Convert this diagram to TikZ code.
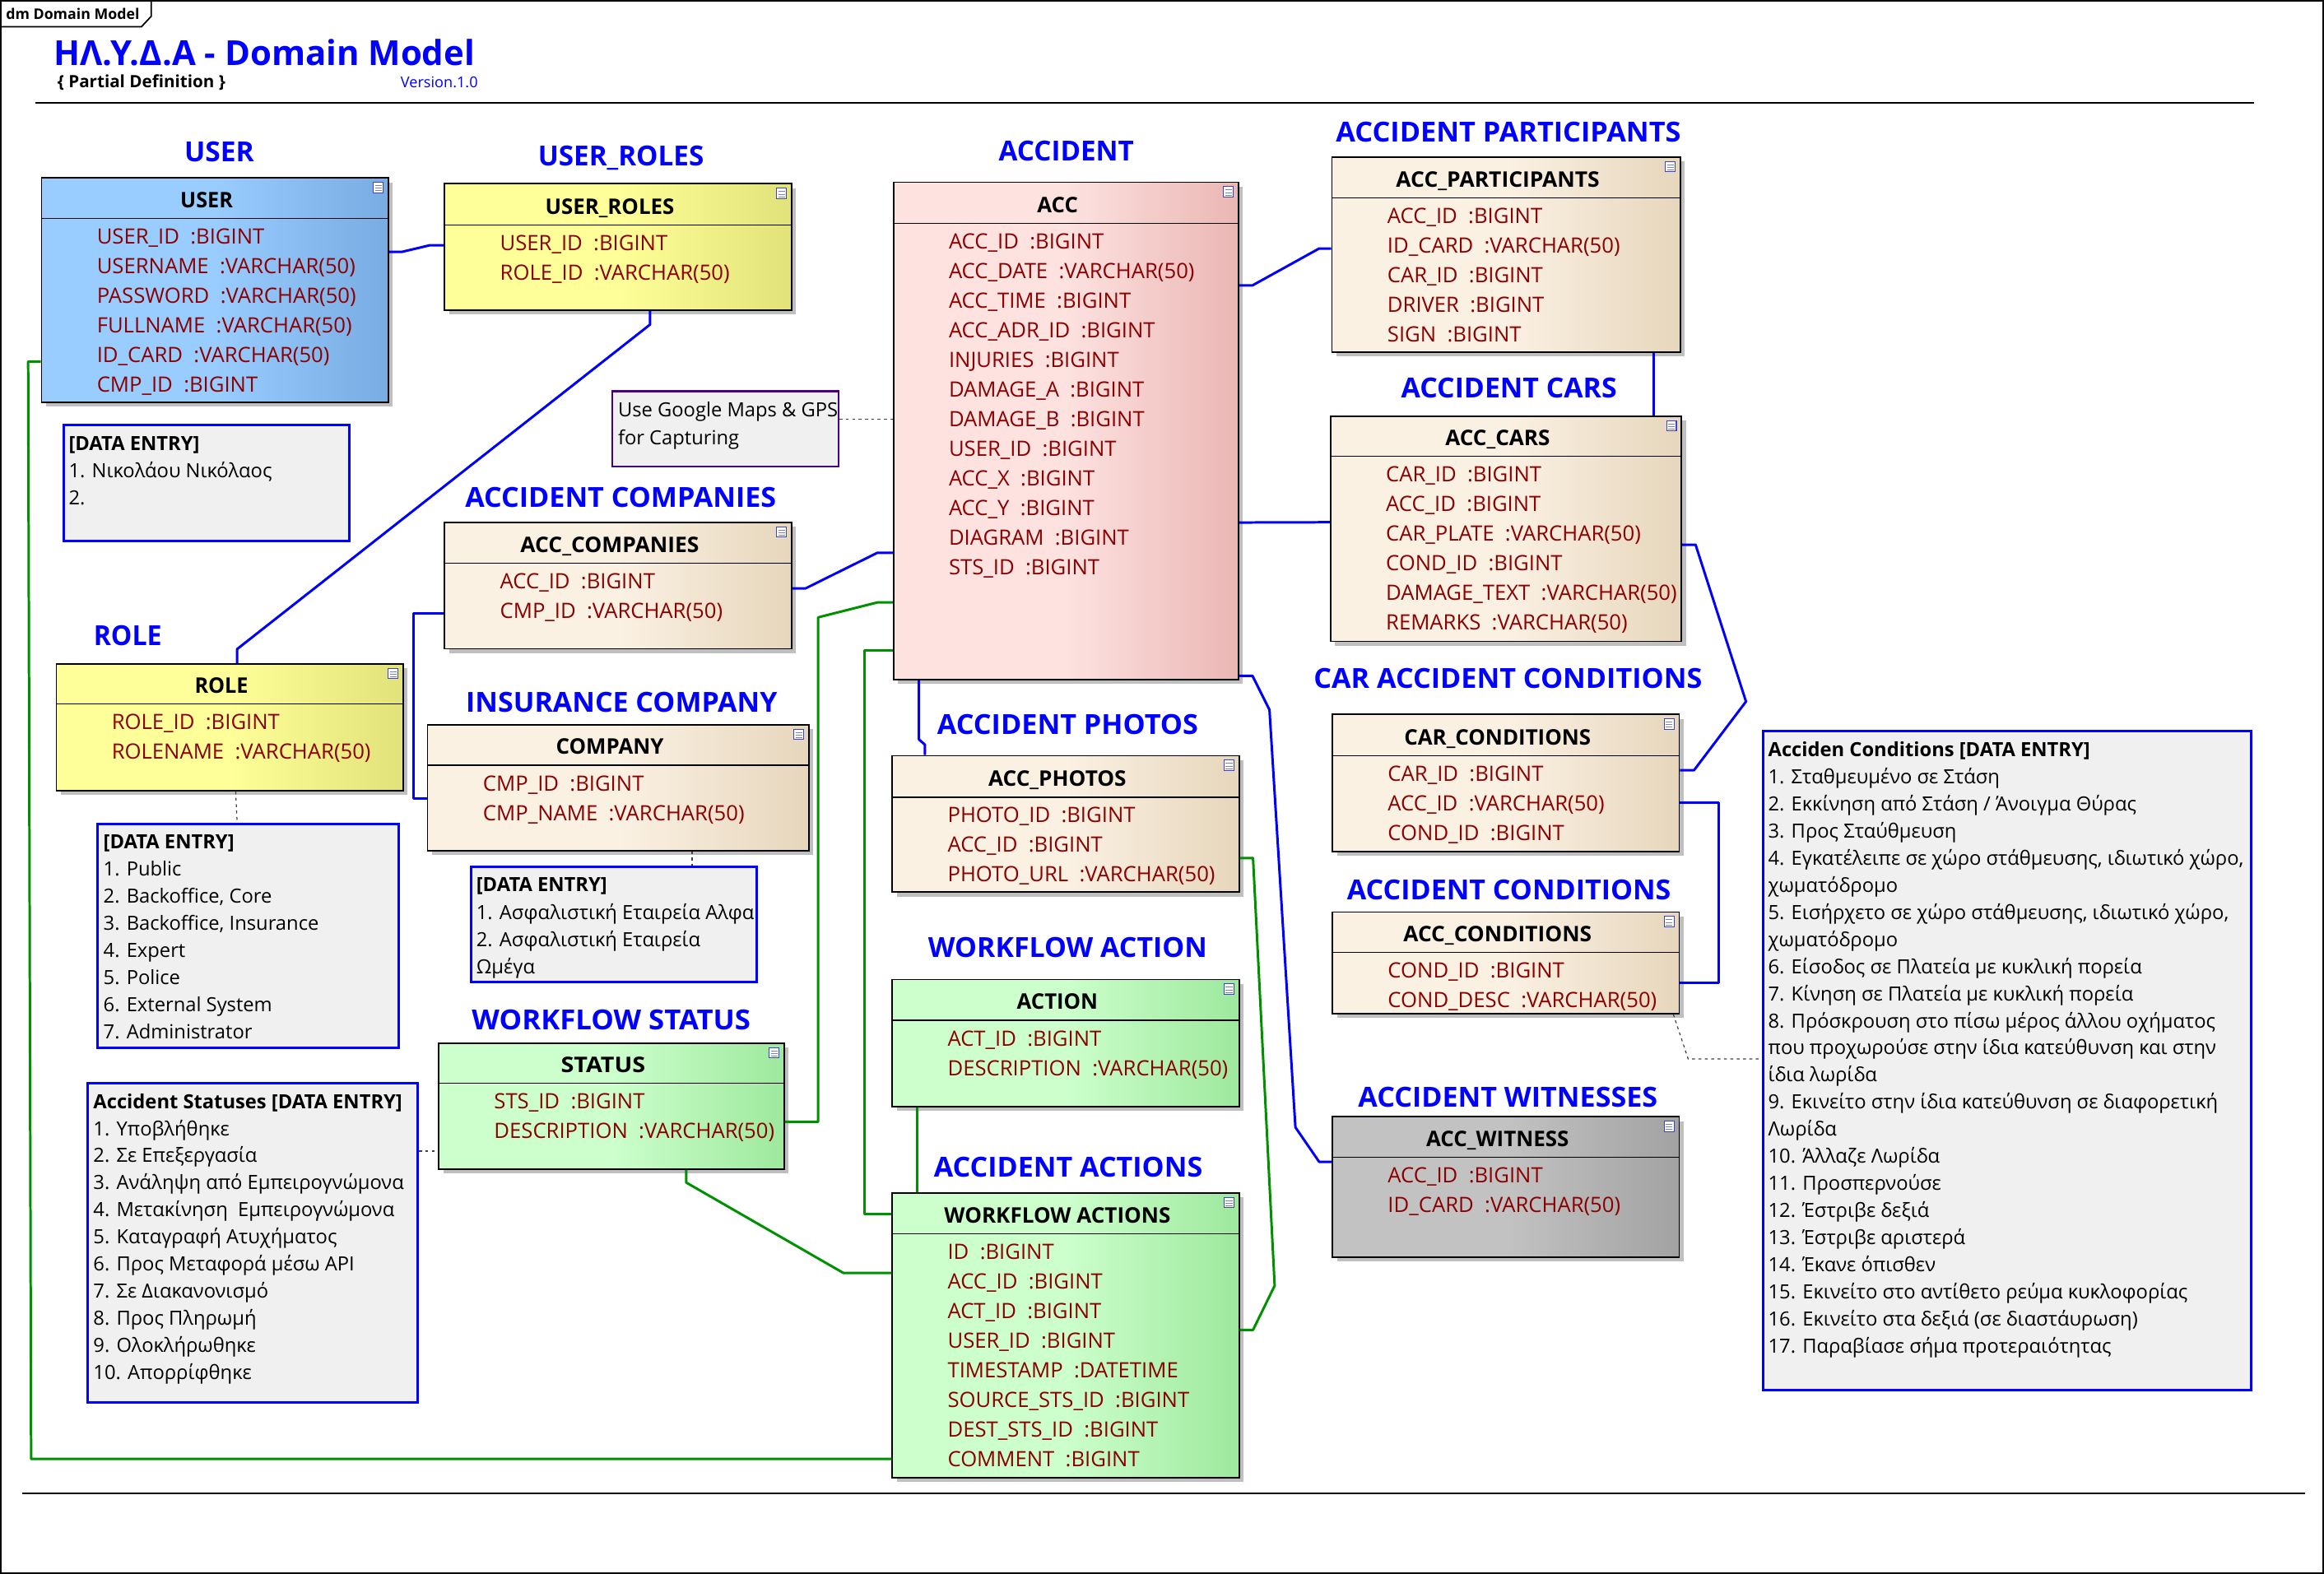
\documentclass[tikz,border=0pt]{standalone}
\usepackage{fontspec}
\usepackage{graphicx}
\setmainfont{Open Sans}
\usetikzlibrary{fit}
\newdimen\pxu \pxu=0.018cm
\definecolor{lblue}{RGB}{0,0,255}
\definecolor{lineblue}{RGB}{0,0,255}
\definecolor{linegreen}{RGB}{0,145,0}
\definecolor{attrred}{RGB}{139,0,0}
\definecolor{noteblue}{RGB}{0,0,255}
\definecolor{notegray}{RGB}{240,240,240}
\definecolor{notepurple}{RGB}{72,0,128}
\definecolor{iconblue}{RGB}{60,70,190}
\definecolor{userL}{RGB}{153,204,255}\definecolor{userR}{RGB}{120,172,226}
\definecolor{yelL}{RGB}{255,255,153}\definecolor{yelR}{RGB}{226,226,122}
\definecolor{begL}{RGB}{251,241,227}\definecolor{begR}{RGB}{230,214,188}
\definecolor{pinkL}{RGB}{253,226,224}\definecolor{pinkR}{RGB}{234,182,180}
\definecolor{grnL}{RGB}{204,255,204}\definecolor{grnR}{RGB}{158,232,158}
\definecolor{gryL}{RGB}{194,194,194}\definecolor{gryR}{RGB}{162,162,162}
\newcommand\attrfont{\fontsize{7.3pt}{8pt}\selectfont}
\newcommand\notefont{\fontsize{6.75pt}{8pt}\selectfont}
\newcommand\hw[2]{\resizebox{#1\pxu}{10.5\pxu}{\bfseries #2}}
\tikzset{
 tblbox/.style={draw=black, line width=0.5pt, inner sep=0pt},
 shadowc/.style={fill=black!25},
 hdrsep/.style={draw=black, line width=0.4pt},
 hdr/.style={anchor=base, inner sep=0pt},
 attr/.style={anchor=base west, inner sep=0pt, text=attrred, font=\attrfont},
 iconst/.style={draw=iconblue, fill=white, line width=0.3pt},
 iconln/.style={draw=iconblue!70, line width=0.25pt},
 notest/.style={draw=noteblue, line width=0.85pt, fill=notegray, inner sep=0pt},
 notetxt/.style={anchor=base west, inner sep=0pt, font=\notefont},
 bconn/.style={draw=lineblue, line width=0.85pt, line join=round},
 gconn/.style={draw=linegreen, line width=0.85pt, line join=round},
 dotc/.style={draw=black!75, line width=0.35pt, dash pattern=on 1pt off 1.2pt},
 lbl/.style={anchor=base west, inner sep=0pt, text=lblue},
 fuser/.style={left color=userL, right color=userR, middle color=userL},
 fyel/.style={left color=yelL, right color=yelR, middle color=yelL},
 fbeg/.style={left color=begL, right color=begR, middle color=begL},
 fpink/.style={left color=pinkL, right color=pinkR, middle color=pinkL},
 fgrn/.style={left color=grnL, right color=grnR, middle color=grnL},
 fgry/.style={left color=gryL, right color=gryR, middle color=gryL}
}
% #1 name #2 x1 #3 y1 #4 x2 #5 y2 #6 header line y #7 fill style #8 header text
\newcommand\tbl[8]{%
  \fill[shadowc] (#2+3,#3+3) rectangle (#4+3,#5+3);
  \node[tblbox,#7,fit={(#2,#3) (#4,#5)}] (#1) {};
  \draw[hdrsep] (#2,#6) -- (#4,#6);
  \node[hdr] (#1-title) at ({(#2+#4)/2-5.6},#6-7.4) {#8};
  \draw[iconst] (#4-10,#3+3) rectangle (#4-3.5,#3+10);
  \draw[iconln] (#4-9,#3+5.2) -- (#4-4.5,#3+5.2) (#4-9,#3+7) -- (#4-4.5,#3+7) (#4-9,#3+8.7) -- (#4-4.5,#3+8.7);
}
\newcommand\attrs[4]{\foreach \aline [count=\i] in {#4} {\node[attr] (#1-a\i) at (#2+37,{#3+17.2+(\i-1)*20}) {\aline};}}
% #1 name #2 x1 #3 y1 #4 x2 #5 y2 #6 text x #7 first baseline #8 spacing #9 lines
\newcommand\notebox[9]{%
  \node[notest, fit={(#2,#3) (#4,#5)}] (#1) {};
  \foreach \aline [count=\i] in {#9} {\node[notetxt] (#1-l\i) at (#6,{#7+(\i-1)*#8}) {\aline};}
}
% #1 name #2 xl #3 width #4 baseline #5 text
\newcommand\lb[5]{\node[lbl] (#1) at (#2,#4) {\resizebox{#3\pxu}{13.5\pxu}{\bfseries #5}};}
\begin{document}
\begin{tikzpicture}[x=0.018cm, y=-0.018cm]
\useasboundingbox (0,0) rectangle (1568,1062);
% frame
\draw[line width=0.5pt] (0.6,0.6) rectangle (1567.4,1061.4);
\draw[line width=0.5pt] (0.6,18) -- (95.5,18) -- (102,11) -- (102,0.6);
\node[anchor=base west, inner sep=0pt] (tab) at (3.7,13) {\resizebox{90\pxu}{!}{\bfseries dm Domain Model}};
\node[anchor=base west, inner sep=0pt, text=lblue] (title) at (36,44.4) {\resizebox{284\pxu}{!}{\bfseries HΛ.Y.Δ.A - Domain Model}};
\node[anchor=base west, inner sep=0pt] (subtitle) at (38.4,59) {\resizebox{113.3\pxu}{!}{\bfseries \{ Partial Definition \}}};
\node[anchor=base west, inner sep=0pt, text=lblue] (version) at (270,58.9) {\resizebox{52\pxu}{!}{Version.1.0}};
\draw[line width=0.5pt] (24,69.4) coordinate (tl1) -- (1521,69.4) coordinate (tl2);
\draw[line width=0.5pt] (15,1007.8) coordinate (bl1) -- (1555,1007.8) coordinate (bl2);

% tables
\tbl{user}{28}{120}{262}{271.5}{147.5}{fuser}{\hw{35.4}{USER}}
\attrs{user}{28}{147.5}{USER\_ID~~:BIGINT, USERNAME~~:VARCHAR(50), PASSWORD~~:VARCHAR(50), FULLNAME~~:VARCHAR(50), ID\_CARD~~:VARCHAR(50), CMP\_ID~~:BIGINT}
\tbl{ur}{300}{124}{534}{209.3}{151.8}{fyel}{\hw{87}{USER\_ROLES}}
\attrs{ur}{300}{151.8}{USER\_ID~~:BIGINT, ROLE\_ID~~:VARCHAR(50)}
\tbl{acc}{602.8}{123}{835.6}{458.6}{150.7}{fpink}{\hw{27.5}{ACC}}
\attrs{acc}{602.8}{150.7}{ACC\_ID~~:BIGINT, ACC\_DATE~~:VARCHAR(50), ACC\_TIME~~:BIGINT, ACC\_ADR\_ID~~:BIGINT, INJURIES~~:BIGINT, DAMAGE\_A~~:BIGINT, DAMAGE\_B~~:BIGINT, USER\_ID~~:BIGINT, ACC\_X~~:BIGINT, ACC\_Y~~:BIGINT, DIAGRAM~~:BIGINT, STS\_ID~~:BIGINT}
\tbl{part}{898.7}{106}{1133.7}{237.6}{133.5}{fbeg}{\hw{137.3}{ACC\_PARTICIPANTS}}
\attrs{part}{898.7}{133.5}{ACC\_ID~~:BIGINT, ID\_CARD~~:VARCHAR(50), CAR\_ID~~:BIGINT, DRIVER~~:BIGINT, SIGN~~:BIGINT}
\tbl{cars}{897.7}{280.8}{1134.5}{432.8}{308}{fbeg}{\hw{70.6}{ACC\_CARS}}
\attrs{cars}{897.7}{308}{CAR\_ID~~:BIGINT, ACC\_ID~~:BIGINT, CAR\_PLATE~~:VARCHAR(50), COND\_ID~~:BIGINT, DAMAGE\_TEXT~~:VARCHAR(50), REMARKS~~:VARCHAR(50)}
\tbl{carcond}{899}{482}{1133}{574.6}{510}{fbeg}{\hw{126}{CAR\_CONDITIONS}}
\attrs{carcond}{899}{510}{CAR\_ID~~:BIGINT, ACC\_ID~~:VARCHAR(50), COND\_ID~~:BIGINT}
\tbl{acccond}{899}{615.5}{1133}{684}{642.7}{fbeg}{\hw{127}{ACC\_CONDITIONS}}
\attrs{acccond}{899}{642.7}{COND\_ID~~:BIGINT, COND\_DESC~~:VARCHAR(50)}
\tbl{witness}{899}{753.5}{1133}{848.4}{781}{fgry}{\hw{96.3}{ACC\_WITNESS}}
\attrs{witness}{899}{781}{ACC\_ID~~:BIGINT, ID\_CARD~~:VARCHAR(50)}
\tbl{accomp}{300}{352.5}{534}{437.8}{380}{fbeg}{\hw{120.5}{ACC\_COMPANIES}}
\attrs{accomp}{300}{380}{ACC\_ID~~:BIGINT, CMP\_ID~~:VARCHAR(50)}
\tbl{company}{288.5}{489}{545.7}{574}{516.4}{fbeg}{\hw{72.7}{COMPANY}}
\attrs{company}{288.5}{516.4}{CMP\_ID~~:BIGINT, CMP\_NAME~~:VARCHAR(50)}
\tbl{role}{38}{448}{272}{533.6}{475}{fyel}{\hw{36.1}{ROLE}}
\attrs{role}{38}{475}{ROLE\_ID~~:BIGINT, ROLENAME~~:VARCHAR(50)}
\tbl{status}{296}{704}{529}{789}{731}{fgrn}{\hw{57}{STATUS}}
\attrs{status}{296}{731}{STS\_ID~~:BIGINT, DESCRIPTION~~:VARCHAR(50)}
\tbl{photos}{602}{510}{836}{602}{538}{fbeg}{\hw{93}{ACC\_PHOTOS}}
\attrs{photos}{602}{538}{PHOTO\_ID~~:BIGINT, ACC\_ID~~:BIGINT, PHOTO\_URL~~:VARCHAR(50)}
\tbl{action}{602}{661}{836}{746.7}{688.5}{fgrn}{\hw{54.7}{ACTION}}
\attrs{action}{602}{688.5}{ACT\_ID~~:BIGINT, DESCRIPTION~~:VARCHAR(50)}
\tbl{wa}{602}{805}{836}{997}{832.7}{fgrn}{\hw{152.7}{WORKFLOW ACTIONS}}
\attrs{wa}{602}{832.7}{ID~~:BIGINT, ACC\_ID~~:BIGINT, ACT\_ID~~:BIGINT, USER\_ID~~:BIGINT, TIMESTAMP~~:DATETIME, SOURCE\_STS\_ID~~:BIGINT, DEST\_STS\_ID~~:BIGINT, COMMENT~~:BIGINT}

% notes
\notebox{usernote}{43}{287}{235.5}{365}{46}{303.8}{18.5}{{\bfseries [DATA ENTRY]}, 1. Νικολάου Νικόλαος, 2.}
\notebox{rolenote}{66}{556}{269}{707}{69.4}{572.8}{18.3}{{\bfseries [DATA ENTRY]}, 1. Public, {2. Backoffice, Core}, {3. Backoffice, Insurance}, 4. Expert, 5. Police, 6. External System, 7. Administrator}
\notebox{compnote}{317.7}{584.7}{510.8}{662.8}{321}{601.8}{18.4}{{\bfseries [DATA ENTRY]}, 1. Ασφαλιστική Εταιρεία Αλφα, 2. Ασφαλιστική Εταιρεία, Ωμέγα}
\notebox{statnote}{59.2}{731}{281.9}{946.5}{62.6}{748}{18.26}{{\bfseries Accident Statuses [DATA ENTRY]}, 1. Υποβλήθηκε, 2. Σε Επεξεργασία, 3. Ανάληψη από Εμπειρογνώμονα, 4. Μετακίνηση~~Εμπειρογνώμονα, 5. Καταγραφή Ατυχήματος, 6. Προς Μεταφορά μέσω API, 7. Σε Διακανονισμό, 8. Προς Πληρωμή, 9. Ολοκλήρωθηκε, 10. Απορρίφθηκε}
\notebox{condnote}{1189.5}{493.3}{1518.9}{938}{1192.6}{510.5}{18.3}{{\bfseries Acciden Conditions [DATA ENTRY]}, 1. Σταθμευμένο σε Στάση, 2. Εκκίνηση από Στάση / Άνοιγμα Θύρας, 3. Προς Σταύθμευση, {4. Εγκατέλειπε σε χώρο στάθμευσης, ιδιωτικό χώρο,}, χωματόδρομο, {5. Εισήρχετο σε χώρο στάθμευσης, ιδιωτικό χώρο,}, χωματόδρομο, 6. Είσοδος σε Πλατεία με κυκλική πορεία, 7. Κίνηση σε Πλατεία με κυκλική πορεία, 8. Πρόσκρουση στο πίσω μέρος άλλου οχήματος, που προχωρούσε στην ίδια κατεύθυνση και στην, ίδια λωρίδα, 9. Εκινείτο στην ίδια κατεύθυνση σε διαφορετική, Λωρίδα, 10. Άλλαζε Λωρίδα, 11. Προσπερνούσε, 12. Έστριβε δεξιά, 13. Έστριβε αριστερά, 14. Έκανε όπισθεν, 15. Εκινείτο στο αντίθετο ρεύμα κυκλοφορίας, 16. Εκινείτο στα δεξιά (σε διαστάυρωση), 17. Παραβίασε σήμα προτεραιότητας}
\node[notest, draw=notepurple, line width=0.6pt, fit={(413,264) (565.8,315)}] (gnote) {};
\node[notetxt] (gnote-l1) at (416.6,281.4) {Use Google Maps \& GPS};
\node[notetxt] (gnote-l2) at (416.6,300) {for Capturing};

% labels
\lb{lUser}{124}{47}{109.2}{USER}
\lb{lUR}{362.6}{111.9}{111.7}{USER\_ROLES}
\lb{lAcc}{673.5}{91.2}{108.6}{ACCIDENT}
\lb{lPart}{901}{232.7}{96}{ACCIDENT PARTICIPANTS}
\lb{lCars}{945}{145.5}{268.5}{ACCIDENT CARS}
\lb{lCarCond}{886}{262}{464.5}{CAR ACCIDENT CONDITIONS}
\lb{lAccCond}{908.5}{218.5}{607}{ACCIDENT CONDITIONS}
\lb{lWit}{916}{202}{746.8}{ACCIDENT WITNESSES}
\lb{lComp}{313.5}{209.8}{342.4}{ACCIDENT COMPANIES}
\lb{lIns}{314}{210}{480.6}{INSURANCE COMPANY}
\lb{lRole}{62.8}{46}{435.3}{ROLE}
\lb{lStat}{318}{188}{695}{WORKFLOW STATUS}
\lb{lPhot}{632}{176}{495.5}{ACCIDENT PHOTOS}
\lb{lAct}{625.8}{188.2}{645.8}{WORKFLOW ACTION}
\lb{lAA}{629.7}{181.3}{794}{ACCIDENT ACTIONS}

% connectors
\draw[bconn] (user.east |- 0,170) -- (271,170) -- (290,165.5) -- (ur.west |- 0,165.5);
\draw[bconn] (ur.south -| 438.6,0) -- (438.6,219) -- (160,438) -- (role.north -| 160,0);
\draw[bconn] (acc.west |- 0,373) -- (592,373) -- (543.6,397) -- (accomp.east |- 0,397);
\draw[bconn] (accomp.west |- 0,414) -- (279,414) -- (279,538.6) -- (company.west |- 0,538.6);
\draw[gconn] (acc.west |- 0,406.5) -- (592,406.5) -- (552,416.6) -- (552,757) -- (status.east |- 0,757);
\draw[gconn] (acc.west |- 0,439) -- (583,439) -- (583,819.3) -- (wa.west |- 0,819.3);
\draw[gconn] (user.west |- 0,244) -- (19,244) -- (21,984.5) -- (wa.west |- 0,984.5);
\draw[gconn] (status.south -| 463,0) -- (463,798) -- (569,859) -- (wa.west |- 0,859);
\draw[gconn] (action.south -| 619,0) -- (wa.north -| 619,0);
\draw[gconn] (photos.east |- 0,579) -- (845.4,579) -- (860,867.6) -- (845.4,897.5) -- (wa.east |- 0,897.5);
\draw[bconn] (acc.south -| 620,0) -- (620,499) -- (624,502.5) -- (photos.north -| 624,0);
\draw[bconn] (acc.east |- 0,192.6) -- (845,192.6) -- (890,167.7) -- (part.west |- 0,167.7);
\draw[bconn] (acc.east |- 0,352.6) -- (cars.west |- 0,352.4);
\draw[bconn] (part.south -| 1116,0) -- (cars.north -| 1116,0);
\draw[bconn] (acc.east |- 0,456) -- (845,456) -- (856.5,479) -- (874,760.7) -- (890,784) -- (witness.west |- 0,784);
\draw[bconn] (cars.east |- 0,367.6) -- (1144,367.6) -- (1178,473.4) -- (1143,519.7) -- (carcond.east |- 0,519.7);
\draw[bconn] (carcond.east |- 0,541.4) -- (1159.4,541.4) -- (1159.4,663) -- (acccond.east |- 0,663);
\draw[dotc] (acccond.south -| 1129,0) -- (1139,714.6) -- (condnote.west |- 0,714.6);
\draw[dotc] (role.south -| 159,0) -- (rolenote.north -| 160,0);
\draw[dotc] (company.south -| 467,0) -- (compnote.north -| 467,0);
\draw[dotc] (gnote.east |- 0,283) -- (acc.west |- 0,283);
\draw[dotc] (statnote.east |- 0,776.8) -- (status.west |- 0,776.8);
\end{tikzpicture}
\end{document}
